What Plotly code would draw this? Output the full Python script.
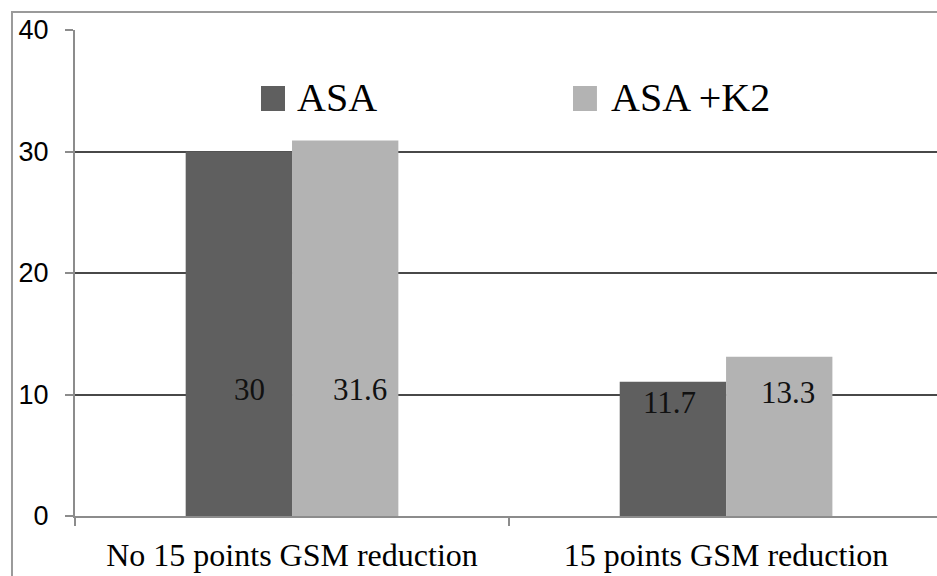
import plotly.graph_objects as go

categories = ["No 15 points GSM reduction", "15 points GSM reduction"]
series_names = ["ASA", "ASA +K2"]
asa_values = [30, 11.05]
asak2_values = [30.9, 13.1]
asa_labels = ["30", "11.7"]
asak2_labels = ["31.6", "13.3"]
y_ticks = [0, 10, 20, 30, 40]

colors = ["#5f5f5f", "#b3b3b3"]
serif = "Liberation Serif, Times New Roman, serif"
sans = "Liberation Sans, Arial, sans-serif"

fig = go.Figure()
fig.add_trace(go.Bar(x=categories, y=asa_values, name=series_names[0],
                     marker=dict(color=colors[0], line=dict(width=0)), showlegend=False))
fig.add_trace(go.Bar(x=categories, y=asak2_values, name=series_names[1],
                     marker=dict(color=colors[1], line=dict(width=0)), showlegend=False))

# value labels (placed as in the reference, inside the bars)
label_offsets = [(-0.097, 0.157), (-0.131, 0.142)]
label_y = [(10.45, 10.45), (9.34, 10.2)]
for i, cat in enumerate(categories):
    for j, txt in enumerate([asa_labels[i], asak2_labels[i]]):
        fig.add_annotation(x=i + label_offsets[i][j], y=label_y[i][j], xref="x", yref="y",
                           text=txt, showarrow=False,
                           font=dict(family=serif, size=31, color="#111111"))

# manual legend
legend_pos = [(0.2158, 0.2552), (0.5777, 0.6195)]
for k, name in enumerate(series_names):
    sx, tx = legend_pos[k]
    fig.add_shape(type="rect", xref="paper", yref="paper",
                  x0=sx, x1=sx + 0.0278, y0=0.8333, y1=0.8848,
                  fillcolor=colors[k], line=dict(width=0))
    fig.add_annotation(xref="paper", yref="paper", x=tx, y=0.862, text=name,
                       showarrow=False, xanchor="left", yanchor="middle",
                       font=dict(family=serif, size=40, color="#000000"))

# outer frame
fig.add_shape(type="path", xref="paper", yref="paper",
              path="M -0.0731,-0.2 L -0.0731,1.037 L 1.05,1.037",
              line=dict(color="#9a9a9a", width=2))

fig.update_layout(
    width=937, height=576,
    margin=dict(l=75, r=0, t=30, b=60),
    paper_bgcolor="white", plot_bgcolor="white",
    barmode="group", bargap=0.51, bargroupgap=0,
)
fig.update_xaxes(
    range=[-0.5, 1.486], showline=True, linecolor="#8c8c8c", linewidth=2,
    ticks="outside", tickson="boundaries", ticklen=8, tickwidth=2, tickcolor="#8c8c8c",
    tickfont=dict(family=serif, size=32, color="#000000"), showgrid=False,
    ticklabelstandoff=10,
)
fig.update_yaxes(
    range=[0, 40], tickvals=y_ticks, showline=True, linecolor="#8c8c8c", linewidth=2,
    ticks="outside", ticklen=8, tickwidth=2, tickcolor="#8c8c8c",
    tickfont=dict(family=sans, size=27, color="#000000"),
    showgrid=True, gridcolor="#484848", gridwidth=1.5, zeroline=False,
    ticklabelstandoff=11,
)

fig.write_html(
    "out.html",
    config={"displayModeBar": False},
    post_script="document.body.style.margin='0';document.body.style.overflow='hidden';",
)
